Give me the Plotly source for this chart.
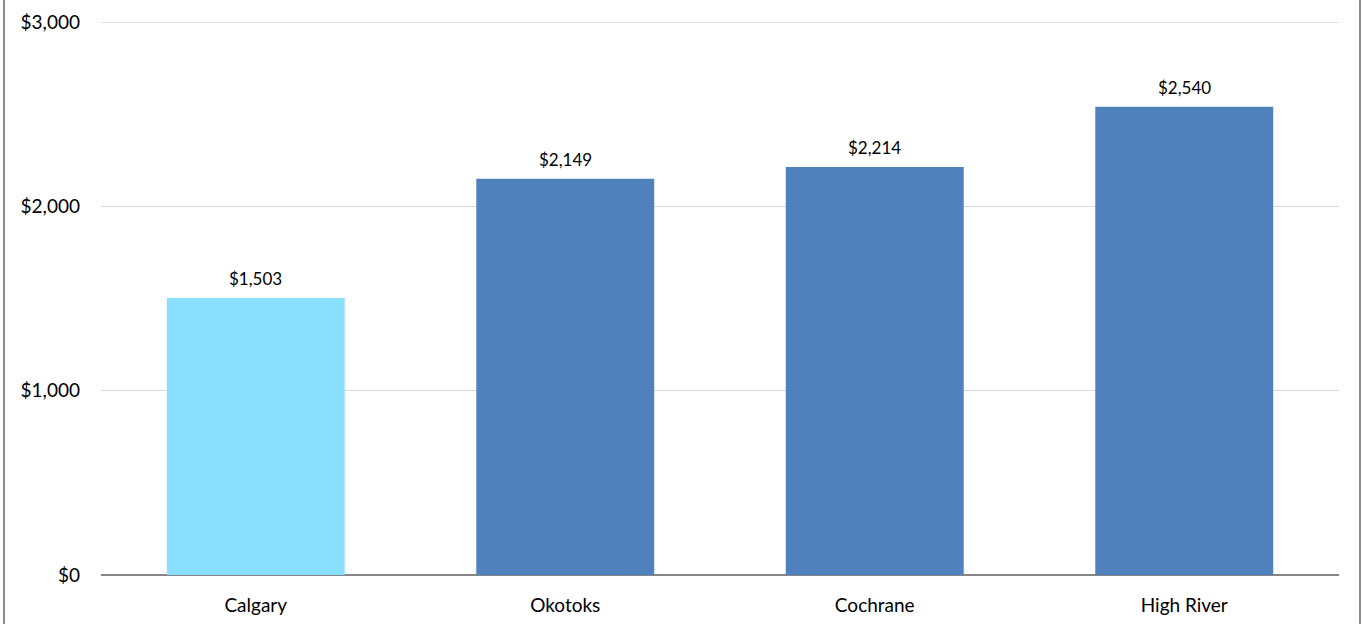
import plotly.graph_objects as go

categories = ["Calgary", "Okotoks", "Cochrane", "High River"]
values = [1503, 2149, 2214, 2540]
bar_colors = ["#8ADFFF", "#4F81BD", "#4F81BD", "#4F81BD"]
y_ticks = [0, 1000, 2000, 3000]
y_tick_labels = ["$0", "$1,000", "$2,000", "$3,000"]

FONT = "Lato, Open Sans, sans-serif"

fig = go.Figure()
fig.add_trace(go.Bar(
    x=categories, y=values, marker=dict(color=bar_colors, line=dict(width=0)),
    width=0.575, hoverinfo="x+y",
))
for c, v in zip(categories, values):
    fig.add_annotation(x=c, y=v, text=f"${v:,}", showarrow=False,
                       yanchor="bottom", yshift=7,
                       font=dict(family=FONT, size=17, color="#000000"))

fig.update_layout(
    width=1362, height=624,
    margin=dict(l=101, r=23, t=22, b=49),
    paper_bgcolor="white", plot_bgcolor="white",
    showlegend=False,
    font=dict(family=FONT, size=19, color="#000000"),
    xaxis=dict(showgrid=False, showline=False, ticks="", ticklabelstandoff=17,
               tickfont=dict(size=19), automargin=False),
    yaxis=dict(range=[0, 3000], tickvals=y_ticks, ticktext=y_tick_labels,
               showgrid=True, gridcolor="#D9D9D9", gridwidth=1,
               zeroline=True, zerolinecolor="#868686", zerolinewidth=1.5,
               ticks="", ticklabelstandoff=20, tickfont=dict(size=19),
               automargin=False),
    shapes=[
        dict(type="line", xref="paper", yref="y", x0=0, x1=1,
             y0=y_ticks[-1], y1=y_ticks[-1], layer="below",
             line=dict(color="#D9D9D9", width=1.5)),
        dict(type="line", xref="paper", yref="paper", x0=-97/1238, x1=-97/1238,
             y0=-0.2, y1=1.2, line=dict(color="#8C8C8C", width=2)),
        dict(type="line", xref="paper", yref="paper", x0=1+21/1238, x1=1+21/1238,
             y0=-0.2, y1=1.2, line=dict(color="#8C8C8C", width=2)),
    ],
)
fig.write_html("out.html", config={"displayModeBar": False},
               post_script="document.body.style.margin='0';document.body.style.overflow='hidden';")
